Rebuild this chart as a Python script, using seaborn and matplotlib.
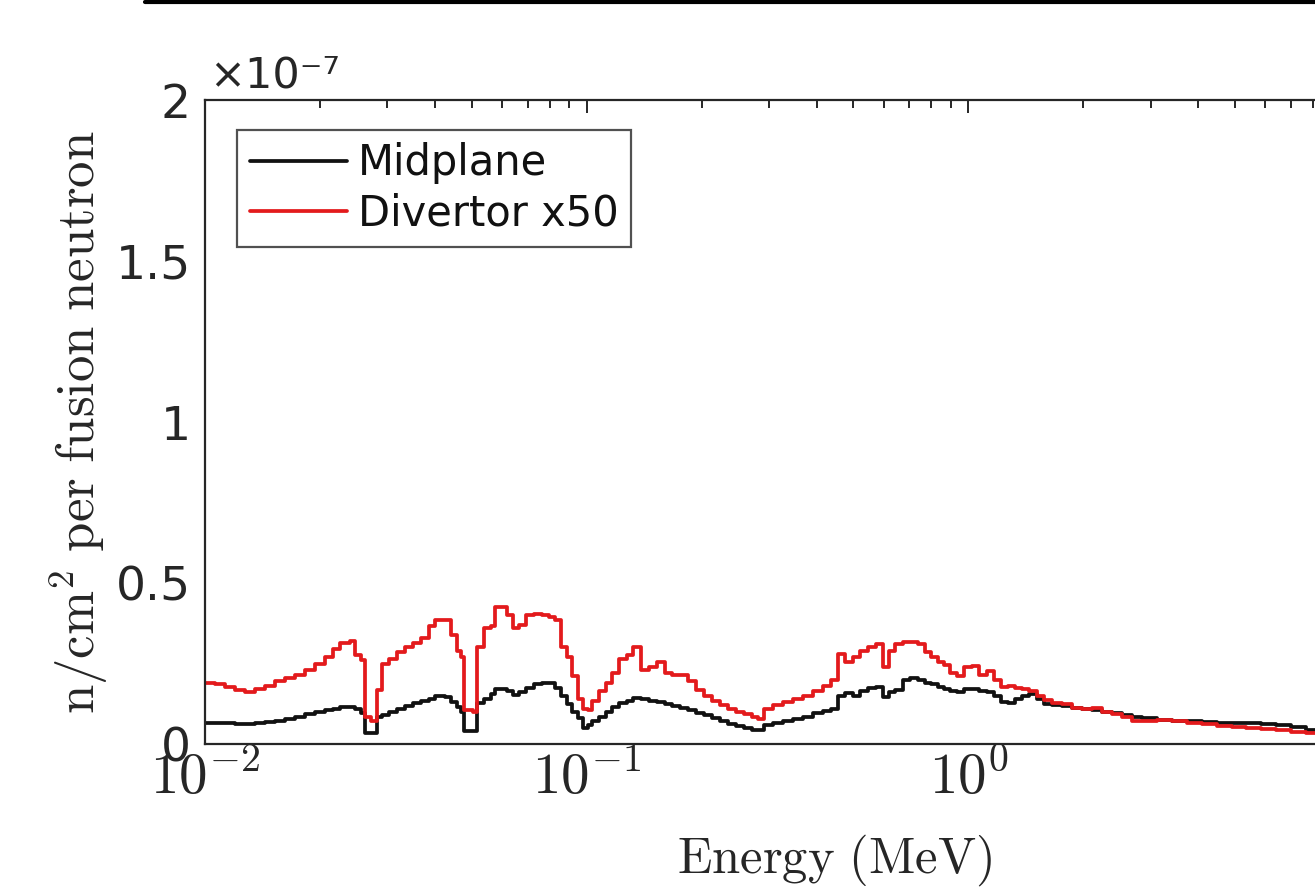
import numpy as np
import pandas as pd
import matplotlib
matplotlib.use('Agg')
import matplotlib.pyplot as plt
from matplotlib.lines import Line2D
from matplotlib.ticker import FuncFormatter, LogLocator, FixedLocator
import seaborn as sns

# ── Data (group lower edges in MeV, flux per fusion neutron in units of 1e-7) ──
energy_mev = [
    0.0100, 0.01062, 0.01128, 0.01198, 0.01272, 0.01351, 0.01435, 0.01523,
    0.01618, 0.01718, 0.01824, 0.01938, 0.02058, 0.02159, 0.02252, 0.02391,
    0.02479, 0.02570, 0.02633, 0.02729, 0.02830, 0.02916, 0.03041, 0.03190,
    0.03349, 0.03513, 0.03687, 0.03869, 0.04011, 0.04259, 0.04415, 0.04577,
    0.04688, 0.04774, 0.05040, 0.05163, 0.05384, 0.05617, 0.05753, 0.06001,
    0.06183, 0.06410, 0.06645, 0.06930, 0.07271, 0.07629, 0.07959, 0.08251,
    0.08553, 0.08866, 0.09136, 0.09473, 0.09763, 0.1006, 0.1031, 0.1075,
    0.1121, 0.1162, 0.1212, 0.1272, 0.1319, 0.1384, 0.1452, 0.1524,
    0.1599, 0.1677, 0.1760, 0.1847, 0.1938, 0.2033, 0.2133, 0.2238,
    0.2349, 0.2464, 0.2585, 0.2713, 0.2812, 0.2916, 0.3078, 0.3268,
    0.3471, 0.3687, 0.3915, 0.4158, 0.4363, 0.4550, 0.4745, 0.4978,
    0.5193, 0.5449, 0.5717, 0.5963, 0.6182, 0.6409, 0.6725, 0.7015,
    0.7359, 0.7676, 0.7958, 0.8300, 0.8657, 0.8975, 0.9362, 0.9764,
    1.024, 1.068, 1.121, 1.169, 1.219, 1.272, 1.327, 1.384,
    1.443, 1.514, 1.579, 1.657, 1.760, 1.869, 1.985, 2.108,
    2.238, 2.377, 2.524, 2.681, 2.847, 3.116, 3.409, 3.731,
    4.083, 4.468, 4.890, 5.352, 5.856, 6.409, 7.015, 7.676,
    8.400, 9.193, 10.0, 12.0, 14.0, 20.0,
]

midplane = [
    0.065, 0.065, 0.064, 0.063, 0.063, 0.065, 0.068, 0.072,
    0.078, 0.085, 0.092, 0.100, 0.105, 0.110, 0.115, 0.116,
    0.108, 0.095, 0.035, 0.035, 0.084, 0.090, 0.100, 0.110,
    0.118, 0.126, 0.134, 0.140, 0.148, 0.145, 0.130, 0.115,
    0.100, 0.040, 0.040, 0.127, 0.140, 0.155, 0.170, 0.172,
    0.165, 0.152, 0.160, 0.175, 0.185, 0.190, 0.188, 0.175,
    0.150, 0.125, 0.100, 0.080, 0.050, 0.060, 0.072, 0.085,
    0.100, 0.115, 0.127, 0.135, 0.143, 0.140, 0.135, 0.130,
    0.125, 0.118, 0.112, 0.105, 0.097, 0.090, 0.080, 0.070,
    0.063, 0.057, 0.050, 0.045, 0.042, 0.060, 0.065, 0.070,
    0.078, 0.085, 0.095, 0.102, 0.110, 0.150, 0.158, 0.150,
    0.165, 0.175, 0.177, 0.145, 0.160, 0.168, 0.200, 0.205,
    0.198, 0.190, 0.185, 0.178, 0.170, 0.165, 0.160, 0.172,
    0.170, 0.165, 0.160, 0.150, 0.130, 0.127, 0.140, 0.150,
    0.155, 0.140, 0.125, 0.122, 0.118, 0.113, 0.110, 0.105,
    0.100, 0.095, 0.090, 0.085, 0.080, 0.076, 0.072, 0.070,
    0.068, 0.066, 0.065, 0.064, 0.062, 0.058, 0.053, 0.045,
    0.040, 0.035, 0.032, 0.030, 0.028, 0.028,
]

divertor_x50 = [
    0.190, 0.185, 0.178, 0.168, 0.160, 0.170, 0.180, 0.195,
    0.205, 0.215, 0.230, 0.250, 0.270, 0.295, 0.315, 0.320,
    0.275, 0.260, 0.085, 0.070, 0.168, 0.250, 0.265, 0.285,
    0.300, 0.315, 0.330, 0.365, 0.385, 0.385, 0.340, 0.290,
    0.270, 0.105, 0.100, 0.300, 0.360, 0.365, 0.425, 0.425,
    0.400, 0.360, 0.370, 0.400, 0.405, 0.400, 0.395, 0.385,
    0.300, 0.270, 0.210, 0.140, 0.110, 0.105, 0.135, 0.165,
    0.190, 0.220, 0.265, 0.275, 0.300, 0.230, 0.240, 0.255,
    0.220, 0.215, 0.214, 0.195, 0.168, 0.150, 0.135, 0.120,
    0.110, 0.100, 0.092, 0.085, 0.078, 0.110, 0.120, 0.130,
    0.140, 0.150, 0.165, 0.180, 0.200, 0.280, 0.255, 0.270,
    0.290, 0.300, 0.310, 0.240, 0.290, 0.310, 0.318, 0.318,
    0.310, 0.285, 0.270, 0.255, 0.245, 0.220, 0.210, 0.240,
    0.242, 0.215, 0.228, 0.200, 0.178, 0.180, 0.175, 0.172,
    0.165, 0.148, 0.138, 0.128, 0.125, 0.112, 0.110, 0.112,
    0.100, 0.092, 0.085, 0.072, 0.070, 0.073, 0.070, 0.066,
    0.062, 0.056, 0.053, 0.050, 0.048, 0.043, 0.038, 0.034,
    0.030, 0.028, 0.026, 0.025, 0.024, 0.024,
]

labels = ['Midplane', 'Divertor x50']
colors = ['#111111', '#e31a1c']
SCALE = 1e-7

df = pd.DataFrame({'E': energy_mev,
                   'Midplane': np.array(midplane) * SCALE,
                   'Divertor x50': np.array(divertor_x50) * SCALE})

# ── Style ─────────────────────────────────────────────────────────────────
sns.set_theme(style='white')
plt.rcParams['font.family'] = ['DejaVu Sans']
plt.rcParams['mathtext.fontset'] = 'cm'
axcol = '#262626'

fig = plt.figure(figsize=(13.15, 8.88), dpi=100)
ax = fig.add_axes([205 / 1315, 144 / 888, 1260 / 1315, 644 / 888])

for name, col in zip(labels, colors):
    sns.lineplot(data=df, x='E', y=name, ax=ax, color=col, linewidth=2.7,
                 drawstyle='steps-post', estimator=None, sort=False, label=name)

ax.set_xscale('log')
ax.set_xlim(1e-2, 20)
ax.set_ylim(0, 2e-7)

ax.yaxis.set_major_locator(FixedLocator([0, 0.5e-7, 1e-7, 1.5e-7, 2e-7]))
ax.yaxis.set_major_formatter(FuncFormatter(lambda v, p: f'{v / SCALE:g}'))
ax.xaxis.set_major_locator(LogLocator(base=10, numticks=10))
ax.xaxis.set_minor_locator(LogLocator(base=10, subs=np.arange(2, 10), numticks=20))
ax.xaxis.set_major_formatter(FuncFormatter(lambda v, p: r'$10^{%d}$' % round(np.log10(v))))

for s in ax.spines.values():
    s.set_color(axcol)
    s.set_linewidth(1.6)
ax.tick_params(axis='both', which='both', direction='in', top=True, right=True,
               color=axcol, width=1.4)
ax.tick_params(axis='both', which='major', length=9)
ax.tick_params(axis='x', which='minor', length=5.5)
ax.tick_params(axis='y', labelsize=34, pad=10, labelcolor=axcol)
ax.tick_params(axis='x', labelsize=41, pad=5, labelcolor=axcol)

ax.set_xlabel(r'$\mathrm{Energy\ (MeV)}$', fontsize=36.5, color=axcol, labelpad=19)
ax.set_ylabel(r'$\mathrm{n/cm^2\ per\ fusion\ neutron}$', fontsize=38,
              color=axcol, labelpad=4)

# MATLAB-style exponent label
ax.text(0.003, 1.005, '×10⁻⁷', transform=ax.transAxes, fontsize=31,
        color=axcol, ha='left', va='bottom')

leg = ax.legend(loc='upper left', bbox_to_anchor=(32 / 1260, 1 - 30 / 644),
                borderaxespad=0, fontsize=30, frameon=True, fancybox=False,
                handlelength=2.35, handletextpad=0.25, labelspacing=0.2,
                borderpad=0.3)
leg.get_frame().set_edgecolor(axcol)
leg.get_frame().set_linewidth(1.6)
for t in leg.get_texts():
    t.set_color('#111111')

# border line at the very top of the image
fig.add_artist(Line2D([145 / 1315, 1.0], [1 - 2 / 888, 1 - 2 / 888],
                      transform=fig.transFigure, color='black', linewidth=3))

fig.savefig('out.png', dpi=100)
